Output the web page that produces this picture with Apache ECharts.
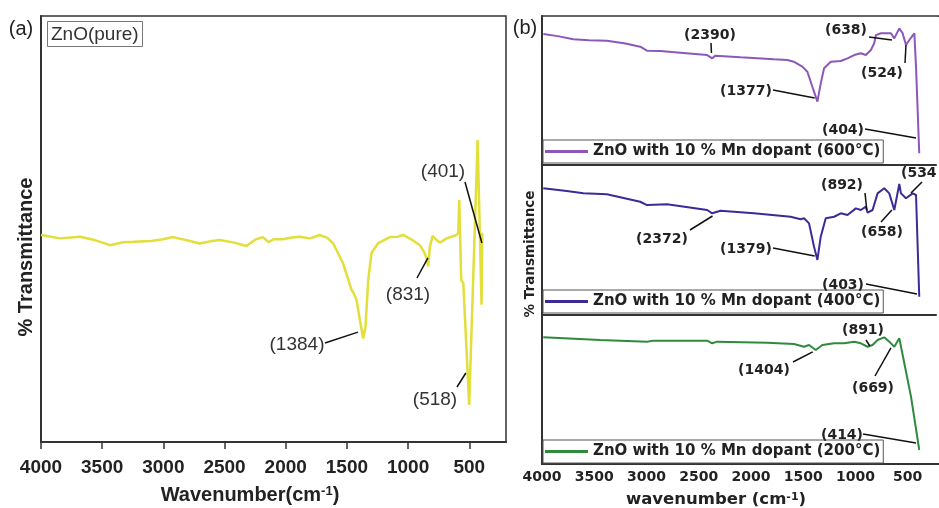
<!DOCTYPE html>
<html><head><meta charset="utf-8">
<script src="https://cdn.jsdelivr.net/npm/echarts@6/dist/echarts.min.js"></script>
<style>html,body{margin:0;padding:0;background:#fff;overflow:hidden}#c{width:939px;height:508px}</style>
</head><body><div id="c"></div>
<script>
// ---------- data ----------
const wavenumberTicks = [4000, 3500, 3000, 2500, 2000, 1500, 1000, 500];
const seriesNames = ['ZnO(pure)', 'ZnO with 10 % Mn dopant (600°C)', 'ZnO with 10 % Mn dopant (400°C)', 'ZnO with 10 % Mn dopant (200°C)'];

const pureZnO = [
  [4000,48.6],[3845,47.8],[3682,48.2],[3560,47.4],[3437,46.2],[3330,46.9],[3247,47.0],[3100,47.2],[3003,47.6],[2921,48.1],
  [2800,47.3],[2703,46.6],[2620,47.1],[2540,47.4],[2420,46.8],[2322,46.0],[2250,47.5],[2187,48.1],[2140,46.9],[2100,47.6],
  [2024,47.6],[1950,48.0],[1887,48.2],[1800,47.8],[1724,48.6],[1660,47.9],[1612,46.6],[1531,41.9],[1462,35.7],[1450,35.2],
  [1421,33.3],[1394,28.6],[1367,24.3],[1348,27.1],[1326,38.0],[1299,44.4],[1244,46.7],[1149,48.1],[1081,48.2],[1040,48.6],
  [965,47.4],[904,46.2],[871,44.7],[849,43.1],[836,41.2],[822,45.8],[800,48.4],[767,47.4],[740,46.8],[685,47.8],
  [604,48.6],[590,49.1],[582,56.8],[566,38.0],[549,37.3],[501,8.7],[432,70.9],[413,48.1],[400,32.2],[394,49.1]
];
const mn600 = [
  [3987,87.9],[3850,86.5],[3700,84.4],[3550,83.8],[3379,83.4],[3200,81.5],[3060,79.4],[2995,76.7],[2868,76.5],[2676,75.4],
  [2419,73.8],[2371,71.6],[2340,73.4],[2323,73.2],[2100,72.3],[1780,70.9],[1652,70.5],[1591,69.3],[1508,66.0],[1460,62.6],
  [1412,52.5],[1364,42.5],[1332,54.8],[1300,64.9],[1236,69.3],[1140,69.8],[1076,71.6],[1012,73.8],[948,75.0],[900,73.8],
  [852,77.2],[820,81.7],[804,87.2],[756,88.4],[660,88.4],[628,85.0],[580,91.7],[548,88.4],[516,80.5],[484,83.9],
  [436,88.4],[420,66.0],[389,7.9]
];
const mn400 = [
  [3988,84.5],[3763,82.7],[3604,81.1],[3379,80.5],[3060,75.5],[2995,73.3],[2803,73.8],[2419,70.0],[2371,67.8],[2292,69.5],
  [1972,67.8],[1620,65.5],[1524,63.8],[1492,64.5],[1444,61.1],[1396,45.5],[1364,36.7],[1332,52.2],[1284,64.5],[1204,65.5],
  [1140,67.8],[1076,66.7],[996,71.1],[948,70.0],[900,72.2],[884,68.2],[836,70.0],[788,81.1],[724,84.5],[676,81.1],
  [628,70.0],[580,87.3],[564,81.1],[516,77.8],[452,81.1],[420,80.0],[389,12.2]
];
const mn200 = [
  [3988,85.0],[3443,83.2],[2995,82.1],[2932,82.8],[2419,82.8],[2371,81.0],[2323,82.1],[1844,81.4],[1588,80.5],[1492,78.7],
  [1444,79.9],[1380,76.5],[1316,79.9],[1204,81.0],[1108,81.0],[1012,82.1],[948,81.0],[884,78.7],[836,79.9],[788,83.2],
  [724,85.0],[676,82.1],[628,78.7],[580,84.4],[532,67.6],[468,45.2],[389,9.4]
];

const peakLabelsA = ['(1384)', '(831)', '(518)', '(401)'];
const peakAnchorsA = [[1410,25.8],[838,43.2],[528,16.2],[397,46.7]];
const peakLabels600 = ['(2390)', '(1377)', '(638)', '(524)', '(404)'];
const peakAnchors600 = [[2378,75.2],[1390,45.0],[651,83.9],[516,80.5],[420,18.1]];
const peakLabels400 = ['(2372)', '(1379)', '(892)', '(658)', '(534)', '(403)'];
const peakAnchors400 = [[2368,66.0],[1390,39.3],[891,70.0],[651,70.0],[468,81.3],[411,14.0]];
const peakLabels200 = ['(1404)', '(891)', '(669)', '(414)'];
const peakAnchors200 = [[1409,75.2],[862,79.2],[660,77.9],[420,14.1]];

// ---------- layout (pixels): label centre x,y and leader start x,y ----------
const layoutA = [[297,345,325,343],[408,295,417,278],[435,400,457,387],[443,172,465,182]];
const layout600 = [[710,35,711,43],[746,91,773,90],[846,30,869,37],[882,73,905,63],[843,130,865,129]];
const layout400 = [[662,239,690,230],[746,249,773,248],[842,185,865,193],[882,232,881,222],[922,173,922,182],[843,285,866,284]];
const layout200 = [[764,370,793,362],[863,330,866,340],[873,388,875,376],[842,435,863,434]];

const colors = ['#e2de3a', '#8c57b9', '#3b2b97', '#2f8a3c'];
const FA = 'Liberation Sans, Arial, sans-serif';
const FB = 'DejaVu Sans, sans-serif';

const grids = [
  {left:41, top:16, width:465, height:426},
  {left:542, top:16, width:397, height:149},
  {left:542, top:165, width:397, height:150},
  {left:542, top:315, width:397, height:149}
].map(g => Object.assign(g, {show:true, borderColor:'#333', borderWidth:1.5, containLabel:false}));

function xAxis(i) {
  const a = i === 0;
  const showLabels = i === 0 || i === 3;
  return {
    type:'value', gridIndex:i, min:200, max:4000, inverse:true,
    splitLine:{show:false},
    axisLine:{show:true, onZero:false, lineStyle:{color:'#333', width:2}},
    axisTick:{show:a, inside:false, length:7, customValues:wavenumberTicks, lineStyle:{color:'#333', width:1.5}},
    axisLabel:{show:showLabels, customValues:wavenumberTicks, margin:a ? 16 : 6, formatter:v => String(v),
      fontFamily:a ? FA : FB, fontWeight:'bold', fontSize:a ? 19 : 14, color:'#222'}
  };
}
function yAxis(i) {
  return {type:'value', gridIndex:i, min:0, max:100,
    splitLine:{show:false}, axisLabel:{show:false}, axisTick:{show:false},
    axisLine:{show:true, onZero:false, lineStyle:{color:'#333', width:2}}};
}

const dataSets = [pureZnO, mn600, mn400, mn200];
const series = dataSets.map((d, i) => ({
  type:'line', name:seriesNames[i], xAxisIndex:i, yAxisIndex:i, data:d,
  symbol:'none', showSymbol:false, smooth:false,
  color:colors[i], lineStyle:{color:colors[i], width:i === 0 ? 2.5 : 2}
}));

const legends = [1, 2, 3].map(i => ({
  data:[{name:seriesNames[i], icon:'rect'}], left:543, top:[140, 290, 440][i - 1], orient:'horizontal',
  selectedMode:false, itemWidth:43, itemHeight:3, itemGap:0,
  padding:[4, 3, 4, 2], borderColor:'#555', borderWidth:1, backgroundColor:'#fff',
  textStyle:{fontFamily:FB, fontWeight:'bold', fontSize:15, color:'#222'}
}));

const chart = echarts.init(document.getElementById('c'), null, {renderer:'canvas'});
chart.setOption({
  animation:false,
  backgroundColor:'#fff',
  grid:grids,
  xAxis:[0, 1, 2, 3].map(xAxis),
  yAxis:[0, 1, 2, 3].map(yAxis),
  legend:legends,
  title:[{text:seriesNames[0], left:47, top:21, padding:[4, 4, 3, 4], borderColor:'#777', borderWidth:1,
    textStyle:{fontFamily:FA, fontWeight:'normal', fontSize:19, color:'#333'}}],
  series:series
});

// ---------- annotations & axis titles ----------
const g = [];
function annotate(gridIndex, labels, anchors, layout, font, size, weight, color) {
  labels.forEach((lab, k) => {
    const p = chart.convertToPixel({gridIndex:gridIndex}, anchors[k]);
    const L = layout[k];
    g.push({type:'line', z:50, shape:{x1:L[2], y1:L[3], x2:p[0], y2:p[1]}, style:{stroke:'#111', lineWidth:1.5}});
    g.push({type:'text', z:51, x:L[0], y:L[1], style:{text:lab, align:'center', verticalAlign:'middle',
      font:weight + ' ' + size + 'px ' + font, fill:color}});
  });
}
annotate(0, peakLabelsA, peakAnchorsA, layoutA, FA, 19, 'normal', '#333');
annotate(1, peakLabels600, peakAnchors600, layout600, FB, 14, 'bold', '#222');
annotate(2, peakLabels400, peakAnchors400, layout400, FB, 14, 'bold', '#222');
annotate(3, peakLabels200, peakAnchors200, layout200, FB, 14, 'bold', '#222');

// the reference photo is cropped just inside panel (b)'s right frame
g.push({type:'rect', z:60, shape:{x:936.8, y:17, width:4, height:446}, style:{fill:'#fff'}});

g.push({type:'text', x:21, y:29, style:{text:'(a)', align:'center', verticalAlign:'middle', font:'normal 20px ' + FA, fill:'#222'}});
g.push({type:'text', x:525, y:28, style:{text:'(b)', align:'center', verticalAlign:'middle', font:'normal 20px ' + FA, fill:'#222'}});
g.push({type:'text', x:26, y:257, rotation:Math.PI / 2, style:{text:'% Transmittance', align:'center', verticalAlign:'middle', font:'bold 20px ' + FA, fill:'#222'}});
g.push({type:'text', x:530, y:254, rotation:Math.PI / 2, style:{text:'% Transmittance', align:'center', verticalAlign:'middle', font:'bold 13.5px ' + FB, fill:'#222'}});
g.push({type:'text', x:250, y:495, style:{text:'Wavenumber(cm{sup|-1})', align:'center', verticalAlign:'middle',
  font:'bold 20px ' + FA, fill:'#222', rich:{sup:{fontFamily:FA, fontWeight:'bold', fontSize:13, verticalAlign:'top', fill:'#222'}}}});
g.push({type:'text', x:716, y:500, style:{text:'wavenumber (cm{sup|-1})', align:'center', verticalAlign:'middle',
  font:'bold 16.5px ' + FB, fill:'#222', rich:{sup:{fontFamily:FB, fontWeight:'bold', fontSize:11, verticalAlign:'top', fill:'#222'}}}});

chart.setOption({graphic:g});
</script></body></html>
